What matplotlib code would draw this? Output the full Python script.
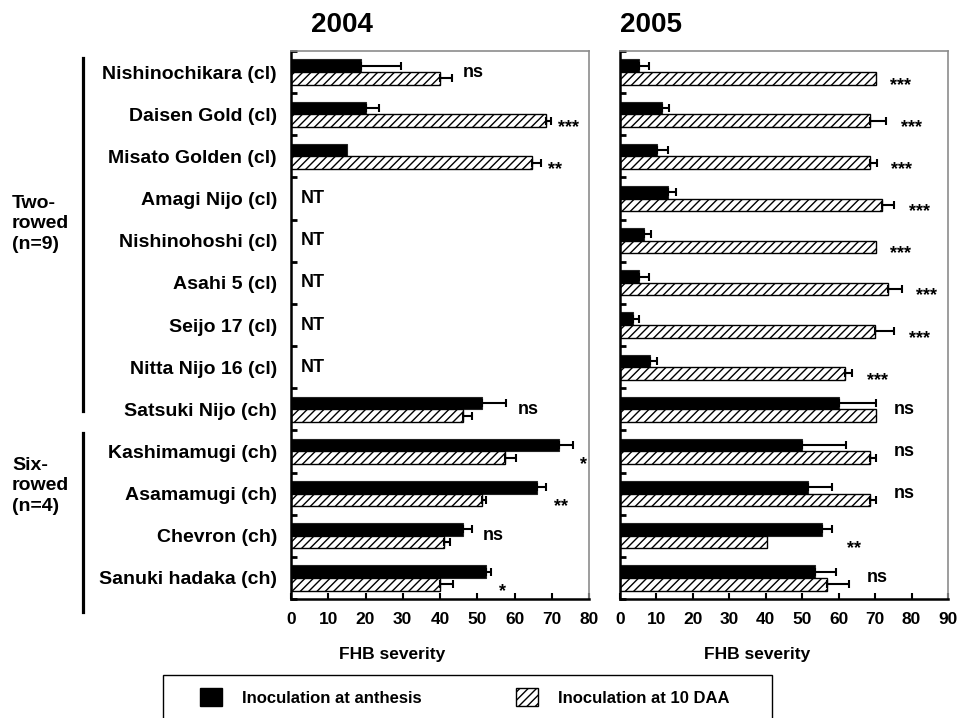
import numpy as np
import matplotlib
matplotlib.use('Agg')
import matplotlib.pyplot as plt
from matplotlib.patches import Patch, Rectangle
from matplotlib.lines import Line2D

plt.rcParams['font.family'] = ['Liberation Sans', 'DejaVu Sans']
plt.rcParams['font.weight'] = 'bold'
plt.rcParams['axes.labelweight'] = 'bold'
plt.rcParams['hatch.linewidth'] = 1.0

# cultivars, top to bottom
cultivars = ['Nishinochikara (cl)', 'Daisen Gold (cl)', 'Misato Golden (cl)',
             'Amagi Nijo (cl)', 'Nishinohoshi (cl)', 'Asahi 5 (cl)', 'Seijo 17 (cl)',
             'Nitta Nijo 16 (cl)', 'Satsuki Nijo (ch)', 'Kashimamugi (ch)',
             'Asamamugi (ch)', 'Chevron (ch)', 'Sanuki hadaka (ch)']
nan = np.nan

# 2004 (NT = not tested)
anth_2004 = [18.9, 20.1, 15.1, nan, nan, nan, nan, nan, 51.2, 71.9, 66.1, 46.1, 52.3]
anth_err_2004 = [10.7, 3.4, 0, nan, nan, nan, nan, nan, 6.6, 3.8, 2.4, 2.4, 1.5]
daa_2004 = [40.1, 68.4, 64.8, nan, nan, nan, nan, nan, 46.1, 57.5, 51.2, 41.2, 40.1]
daa_err_2004 = [3.1, 1.4, 2.2, nan, nan, nan, nan, nan, 2.5, 3.0, 1.1, 1.5, 3.3]
sig_2004 = ['ns', '***', '**', 'NT', 'NT', 'NT', 'NT', 'NT', 'ns', '*', '**', 'ns', '*']

# 2005
anth_2005 = [5.3, 11.5, 10.1, 13.3, 6.7, 5.3, 3.7, 8.3, 60.1, 50.0, 51.6, 55.3, 53.6]
anth_err_2005 = [2.6, 1.9, 3.0, 2.1, 1.8, 2.6, 1.6, 1.9, 10.1, 11.9, 6.6, 2.9, 5.8]
daa_2005 = [70.2, 68.6, 68.6, 71.8, 70.2, 73.4, 70.1, 61.7, 70.2, 68.6, 68.6, 40.3, 56.9]
daa_err_2005 = [0, 4.4, 1.8, 3.5, 0, 3.9, 5.1, 2.0, 0, 1.6, 1.6, 0, 5.9]
sig_2005 = ['***', '***', '***', '***', '***', '***', '***', '***', 'ns', 'ns', 'ns', '**', 'ns']

W, H = 964, 718
fig = plt.figure(figsize=(W / 100, H / 100), dpi=100)
ax1 = fig.add_axes([291 / W, 119 / H, 298 / W, 548 / H])
ax2 = fig.add_axes([620 / W, 119 / H, 328 / W, 548 / H])


def draw_panel(ax, anth, anth_err, daa, daa_err, sig, xmax, gap, show_labels):
    y = np.arange(len(cultivars))
    anth = np.array(anth)
    daa = np.array(daa)
    anth_err = np.array(anth_err)
    daa_err = np.array(daa_err)
    ax.barh(y - 0.15, anth, height=0.3, color='black', edgecolor='#222222', lw=0.8)
    ax.barh(y + 0.15, daa, height=0.3, color='white', edgecolor='black',
            hatch='////', lw=1.0)
    # one-sided error bars
    for vals, errs, off in [(anth, anth_err, -0.15), (daa, daa_err, 0.15)]:
        m = ~np.isnan(vals) & (np.nan_to_num(errs) > 0)
        ax.errorbar(vals[m], y[m] + off, xerr=[np.zeros(m.sum()), errs[m]],
                    fmt='none', ecolor='black', elinewidth=1.5, capsize=3, capthick=1.5)
    # significance labels
    for i, s in enumerate(sig):
        if s == 'NT':
            ax.text(2.5, i, s, ha='left', va='center', fontsize=13)
            continue
        end = np.nanmax([anth[i] + np.nan_to_num(anth_err[i]), daa[i] + np.nan_to_num(daa_err[i])])
        if s == 'ns':
            ax.text(end + gap + 1, i, s, ha='left', va='center', fontsize=13)
        else:
            ax.text(end + gap, i + 0.42, s, ha='left', va='baseline', fontsize=13)

    ax.set_xlim(0, xmax)
    ax.set_ylim(len(cultivars) - 0.5, -0.5)
    ax.set_xticks(np.arange(0, xmax + 1, 10))
    ax.set_yticks(y)
    ax.set_yticks(np.arange(-0.5, len(cultivars), 1), minor=True)
    if show_labels:
        ax.set_yticklabels(cultivars)
    else:
        ax.set_yticklabels([])
    ax.tick_params(axis='y', which='major', length=0, pad=10, labelsize=14)
    ax.tick_params(axis='y', which='minor', direction='in', length=4, width=2)
    ax.tick_params(axis='x', direction='in', length=4, width=1.5, pad=9, labelsize=12.5)
    for side in ['top', 'right']:
        ax.spines[side].set_color('#8c8c8c')
        ax.spines[side].set_linewidth(1.2)
    for side in ['left', 'bottom']:
        ax.spines[side].set_color('black')
        ax.spines[side].set_linewidth(1.8)
    ax.set_xlabel('FHB severity', fontsize=12.5, fontweight='bold')


draw_panel(ax1, anth_2004, anth_err_2004, daa_2004, daa_err_2004, sig_2004, 80, 2.0, True)
draw_panel(ax2, anth_2005, anth_err_2005, daa_2005, daa_err_2005, sig_2005, 90, 4.0, False)
ax1.xaxis.set_label_coords(0.34, -0.088)
ax2.xaxis.set_label_coords(0.418, -0.088)

# panel titles
fig.text(342 / W, 1 - 25 / H, '2004', ha='center', va='center', fontsize=20)
fig.text(651 / W, 1 - 25 / H, '2005', ha='center', va='center', fontsize=20)

# group brackets
fig.text(12 / W, 1 - 224 / H, 'Two-\nrowed\n(n=9)', ha='left', va='center',
         fontsize=14, linespacing=1.25)
fig.text(12 / W, 1 - 486 / H, 'Six-\nrowed\n(n=4)', ha='left', va='center',
         fontsize=14, linespacing=1.25)
fig.add_artist(Line2D([83 / W, 83 / W], [1 - 58 / H, 1 - 411 / H], color='black', lw=2.3))
fig.add_artist(Line2D([83 / W, 83 / W], [1 - 433 / H, 1 - 612 / H], color='black', lw=2.3))

# legend box (runs off the bottom edge)
fig.add_artist(Rectangle((163 / W, -0.05), (772 - 163) / W, (718 - 675) / H + 0.05,
                         transform=fig.transFigure, fill=False, edgecolor='black', lw=1.0))
handles = [Patch(facecolor='black', edgecolor='black'),
           Patch(facecolor='white', edgecolor='black', hatch='////')]
fig.legend(handles, ['Inoculation at anthesis', 'Inoculation at 10 DAA'], ncol=2,
           loc='center left', bbox_to_anchor=(200 / W, 1 - 697 / H), frameon=False,
           fontsize=12, handlelength=1.3, handleheight=1.2, handletextpad=1.2,
           columnspacing=5.7, borderpad=0, borderaxespad=0)

fig.savefig('out.png', dpi=100)
